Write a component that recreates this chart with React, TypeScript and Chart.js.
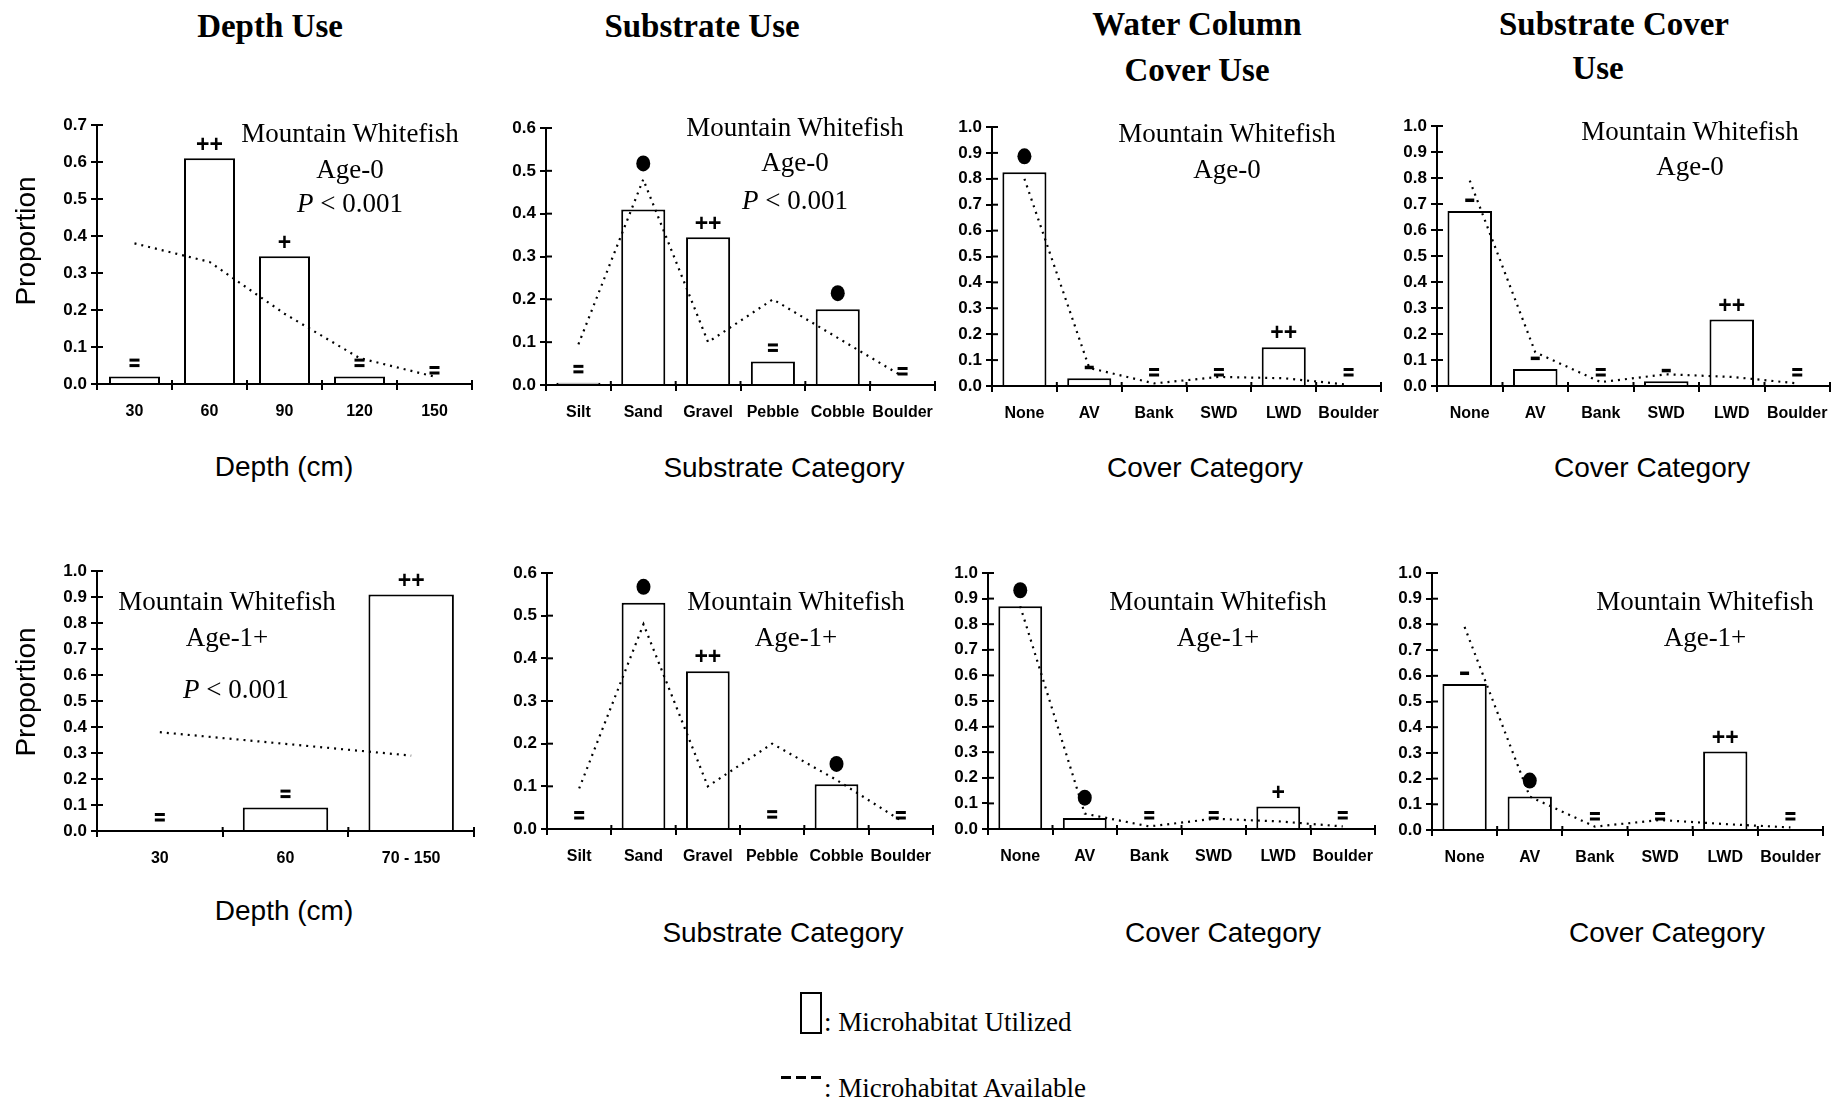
import React, { useEffect, useRef } from "react";
import { Chart, registerables } from "chart.js";

Chart.register(...registerables);

// ---------------- DATA ----------------
const depthCatsAge0 = ["30", "60", "90", "120", "150"];
const depthUsedAge0 = [0.02, 0.61, 0.345, 0.02, 0];
const depthAvailAge0 = [0.38, 0.33, 0.19, 0.07, 0.02];
const depthSymbolsAge0 = ["=", "++", "+", "=", "="];

const depthCatsAge1 = ["30", "60", "70 - 150"];
const depthUsedAge1 = [0, 0.09, 0.91];
const depthAvailAge1 = [0.38, 0.335, 0.29];
const depthSymbolsAge1 = ["=", "=", "++"];

const substrateCats = ["Silt", "Sand", "Gravel", "Pebble", "Cobble", "Boulder"];
const substrateUsedAge0 = [0.005, 0.41, 0.345, 0.055, 0.177, 0];
const substrateAvailAge0 = [0.095, 0.48, 0.1, 0.2, 0.11, 0.02];
const substrateSymbolsAge0 = ["=", "●", "++", "=", "●", "="];
const substrateUsedAge1 = [0, 0.53, 0.37, 0.002, 0.105, 0];
const substrateAvailAge1 = [0.095, 0.48, 0.1, 0.2, 0.115, 0.02];
const substrateSymbolsAge1 = ["=", "●", "++", "=", "●", "="];

const coverCats = ["None", "AV", "Bank", "SWD", "LWD", "Boulder"];
const wcUsedAge0 = [0.825, 0.03, 0, 0, 0.15, 0];
const wcAvailAge0 = [0.8, 0.07, 0.01, 0.035, 0.03, 0.005];
const wcSymbolsAge0 = ["●", "-", "=", "=", "++", "="];
const wcUsedAge1 = [0.87, 0.043, 0, 0, 0.088, 0];
const wcAvailAge1 = [0.87, 0.06, 0.01, 0.04, 0.03, 0.01];
const wcSymbolsAge1 = ["●", "●", "=", "=", "+", "="];

const scUsedAge0 = [0.673, 0.065, 0, 0.018, 0.256, 0];
const scAvailAge0 = [0.79, 0.13, 0.015, 0.045, 0.035, 0.01];
const scSymbolsAge0 = ["-", "-", "=", "-", "++", "="];
const scUsedAge1 = [0.568, 0.13, 0, 0, 0.305, 0];
const scAvailAge1 = [0.79, 0.13, 0.013, 0.039, 0.023, 0.01];
const scSymbolsAge1 = ["-", "●", "=", "=", "++", "="];

// ---------------- LAYOUT ----------------
const PAD_L = 62;
const PAD_T = 15;
const PAD_R = 14;
const PAD_B = 45;

const SERIF = "'Liberation Serif', 'Times New Roman', serif";
const SANS = "'Liberation Sans', Arial, sans-serif";

type PanelCfg = {
  L: number; R: number; T: number; B: number;
  cats: string[]; used: number[]; avail: number[]; symbols: string[]; yMax: number;
};

const panels: PanelCfg[] = [
  { L: 97, R: 472, T: 125, B: 384, cats: depthCatsAge0, used: depthUsedAge0, avail: depthAvailAge0, symbols: depthSymbolsAge0, yMax: 0.7 },
  { L: 546, R: 935, T: 128, B: 385, cats: substrateCats, used: substrateUsedAge0, avail: substrateAvailAge0, symbols: substrateSymbolsAge0, yMax: 0.6 },
  { L: 992, R: 1381, T: 127, B: 386, cats: coverCats, used: wcUsedAge0, avail: wcAvailAge0, symbols: wcSymbolsAge0, yMax: 1.0 },
  { L: 1437, R: 1830, T: 126, B: 386, cats: coverCats, used: scUsedAge0, avail: scAvailAge0, symbols: scSymbolsAge0, yMax: 1.0 },
  { L: 97, R: 474, T: 571, B: 831, cats: depthCatsAge1, used: depthUsedAge1, avail: depthAvailAge1, symbols: depthSymbolsAge1, yMax: 1.0 },
  { L: 547, R: 933, T: 573, B: 829, cats: substrateCats, used: substrateUsedAge1, avail: substrateAvailAge1, symbols: substrateSymbolsAge1, yMax: 0.6 },
  { L: 988, R: 1375, T: 573, B: 829, cats: coverCats, used: wcUsedAge1, avail: wcAvailAge1, symbols: wcSymbolsAge1, yMax: 1.0 },
  { L: 1432, R: 1823, T: 573, B: 830, cats: coverCats, used: scUsedAge1, avail: scAvailAge1, symbols: scSymbolsAge1, yMax: 1.0 },
];

function Panel({ cfg }: { cfg: PanelCfg }) {
  const ref = useRef<HTMLCanvasElement>(null);
  const w = cfg.R - cfg.L + PAD_L + PAD_R;
  const h = cfg.B - cfg.T + PAD_T + PAD_B;

  useEffect(() => {
    const { cats, used, avail, symbols, yMax } = cfg;
    const overlay = {
      id: "overlay",
      afterDatasetsDraw(chart: any) {
        const ctx = chart.ctx;
        const xs = chart.scales.x;
        const ys = chart.scales.y;
        const area = chart.chartArea;
        ctx.save();
        ctx.strokeStyle = "#000";
        ctx.lineWidth = 2;
        // inner parts of y ticks
        ys.ticks.forEach((_t: any, i: number) => {
          const y = ys.getPixelForTick(i);
          ctx.beginPath();
          ctx.moveTo(area.left, y);
          ctx.lineTo(area.left + 6, y);
          ctx.stroke();
        });
        // inner parts of x ticks (category boundaries)
        const n = cats.length;
        const step = (xs.right - xs.left) / n;
        for (let i = 0; i <= n; i++) {
          const x = xs.left + i * step;
          ctx.beginPath();
          ctx.moveTo(x, area.bottom);
          ctx.lineTo(x, area.bottom - 4);
          ctx.stroke();
        }
        // significance symbols
        ctx.fillStyle = "#000";
        ctx.textAlign = "center";
        ctx.textBaseline = "middle";
        symbols.forEach((s, i) => {
          const x = xs.getPixelForValue(i);
          if (s === "●") {
            const y = ys.getPixelForValue(Math.max(used[i], avail[i])) - 16;
            ctx.beginPath();
            ctx.ellipse(x, y, 7, 8, 0, 0, Math.PI * 2);
            ctx.fill();
          } else if (s === "-") {
            const y = ys.getPixelForValue(used[i]) - 11;
            ctx.fillRect(x - 4.5, y - 1.5, 9, 3.5);
          } else if (s === "=") {
            const y = ys.getPixelForValue(used[i]) - 14;
            ctx.fillRect(x - 5, y - 4, 10, 3);
            ctx.fillRect(x - 5, y + 1.5, 10, 3);
          } else {
            const y = ys.getPixelForValue(used[i]) - 13;
            ctx.font = `bold 23px ${SANS}`;
            ctx.fillText(s, x, y);
          }
        });
        ctx.restore();
      },
    };

    const xFont = { family: SANS, size: 16, weight: "bold" as const };
    const yFont = { family: SANS, size: 17, weight: "bold" as const };
    const chart = new Chart(ref.current as HTMLCanvasElement, {
      type: "bar",
      data: {
        labels: cats,
        datasets: [
          {
            type: "line",
            data: avail,
            borderColor: "#000",
            borderWidth: 2.2,
            borderDash: [2, 5],
            pointRadius: 0,
            fill: false,
            tension: 0,
            order: 0,
          } as any,
          {
            type: "bar",
            data: used,
            backgroundColor: "#fff",
            borderColor: "#000",
            borderWidth: 2,
            barPercentage: 0.68,
            categoryPercentage: 1,
            order: 1,
          } as any,
        ],
      },
      options: {
        responsive: false,
        animation: false,
        layout: { padding: { left: 0, top: PAD_T, right: PAD_R, bottom: 0 } },
        plugins: { legend: { display: false }, tooltip: { enabled: false } },
        scales: {
          x: {
            type: "category",
            offset: true,
            grid: { display: true, offset: true, drawOnChartArea: false, drawTicks: true, tickLength: 6, color: "#000", lineWidth: 2 },
            border: { display: true, color: "#000", width: 2 },
            ticks: { color: "#000", font: xFont, padding: 12, maxRotation: 0, autoSkip: false },
            afterFit: (s: any) => { s.height = PAD_B; },
          },
          y: {
            min: 0,
            max: yMax,
            grid: { display: true, drawOnChartArea: false, drawTicks: true, tickLength: 6, color: "#000", lineWidth: 2 },
            border: { display: true, color: "#000", width: 2 },
            ticks: { stepSize: 0.1, color: "#000", font: yFont, padding: 4, callback: (v: any) => Number(v).toFixed(1) },
            afterFit: (s: any) => { s.width = PAD_L; },
          },
        },
      } as any,
      plugins: [overlay],
    });
    return () => chart.destroy();
  }, [cfg]);

  return (
    <canvas
      ref={ref}
      width={w}
      height={h}
      style={{ position: "absolute", left: cfg.L - PAD_L, top: cfg.T - PAD_T, width: w, height: h }}
    />
  );
}

function Txt({ x, y, size, family, bold, children, rotate }: any) {
  return (
    <div
      style={{
        position: "absolute",
        left: x,
        top: y,
        transform: `translate(-50%, -50%)${rotate ? " rotate(-90deg)" : ""}`,
        whiteSpace: "nowrap",
        fontFamily: family,
        fontSize: size,
        fontWeight: bold ? "bold" : "normal",
        lineHeight: 1,
        color: "#000",
      }}
    >
      {children}
    </div>
  );
}

const speciesName = "Mountain Whitefish";
const pText = "< 0.001";

export default function App() {
  return (
    <div style={{ position: "absolute", left: 0, top: 0, width: 1840, height: 1106, background: "#fff", overflow: "hidden" }}>
      {panels.map((p, i) => (
        <Panel key={i} cfg={p} />
      ))}

      {/* column headers */}
      <Txt x={270} y={26} size={33} family={SERIF} bold>Depth Use</Txt>
      <Txt x={702} y={26} size={33} family={SERIF} bold>Substrate Use</Txt>
      <Txt x={1197} y={24} size={33} family={SERIF} bold>Water Column</Txt>
      <Txt x={1197} y={70} size={33} family={SERIF} bold>Cover Use</Txt>
      <Txt x={1614} y={24} size={33} family={SERIF} bold>Substrate Cover</Txt>
      <Txt x={1598} y={68} size={33} family={SERIF} bold>Use</Txt>

      {/* y titles */}
      <Txt x={26} y={241} size={28} family={SANS} rotate>Proportion</Txt>
      <Txt x={26} y={692} size={28} family={SANS} rotate>Proportion</Txt>

      {/* x titles */}
      <Txt x={284} y={467} size={28} family={SANS}>Depth (cm)</Txt>
      <Txt x={784} y={468} size={28} family={SANS}>Substrate Category</Txt>
      <Txt x={1205} y={468} size={28} family={SANS}>Cover Category</Txt>
      <Txt x={1652} y={468} size={28} family={SANS}>Cover Category</Txt>
      <Txt x={284} y={911} size={28} family={SANS}>Depth (cm)</Txt>
      <Txt x={783} y={933} size={28} family={SANS}>Substrate Category</Txt>
      <Txt x={1223} y={933} size={28} family={SANS}>Cover Category</Txt>
      <Txt x={1667} y={933} size={28} family={SANS}>Cover Category</Txt>

      {/* panel annotations */}
      <Txt x={350} y={133} size={27} family={SERIF}>{speciesName}</Txt>
      <Txt x={350} y={169} size={27} family={SERIF}>Age-0</Txt>
      <Txt x={350} y={203} size={27} family={SERIF}><i>P</i> {pText}</Txt>

      <Txt x={795} y={127} size={27} family={SERIF}>{speciesName}</Txt>
      <Txt x={795} y={162} size={27} family={SERIF}>Age-0</Txt>
      <Txt x={795} y={200} size={27} family={SERIF}><i>P</i> {pText}</Txt>

      <Txt x={1227} y={133} size={27} family={SERIF}>{speciesName}</Txt>
      <Txt x={1227} y={169} size={27} family={SERIF}>Age-0</Txt>

      <Txt x={1690} y={131} size={27} family={SERIF}>{speciesName}</Txt>
      <Txt x={1690} y={166} size={27} family={SERIF}>Age-0</Txt>

      <Txt x={227} y={601} size={27} family={SERIF}>{speciesName}</Txt>
      <Txt x={227} y={637} size={27} family={SERIF}>Age-1+</Txt>
      <Txt x={236} y={689} size={27} family={SERIF}><i>P</i> {pText}</Txt>

      <Txt x={796} y={601} size={27} family={SERIF}>{speciesName}</Txt>
      <Txt x={796} y={637} size={27} family={SERIF}>Age-1+</Txt>

      <Txt x={1218} y={601} size={27} family={SERIF}>{speciesName}</Txt>
      <Txt x={1218} y={637} size={27} family={SERIF}>Age-1+</Txt>

      <Txt x={1705} y={601} size={27} family={SERIF}>{speciesName}</Txt>
      <Txt x={1705} y={637} size={27} family={SERIF}>Age-1+</Txt>

      {/* legend */}
      <div style={{ position: "absolute", left: 800, top: 992, width: 18, height: 38, border: "2px solid #000", background: "#fff" }} />
      <div style={{ position: "absolute", left: 824, top: 1022, transform: "translateY(-50%)", whiteSpace: "nowrap", fontFamily: SERIF, fontSize: 27, lineHeight: 1 }}>
        : Microhabitat Utilized
      </div>
      <div style={{ position: "absolute", left: 781, top: 1076, width: 10, height: 3, background: "#000" }} />
      <div style={{ position: "absolute", left: 796, top: 1076, width: 10, height: 3, background: "#000" }} />
      <div style={{ position: "absolute", left: 811, top: 1076, width: 10, height: 3, background: "#000" }} />
      <div style={{ position: "absolute", left: 824, top: 1088, transform: "translateY(-50%)", whiteSpace: "nowrap", fontFamily: SERIF, fontSize: 27, lineHeight: 1 }}>
        : Microhabitat Available
      </div>
    </div>
  );
}
